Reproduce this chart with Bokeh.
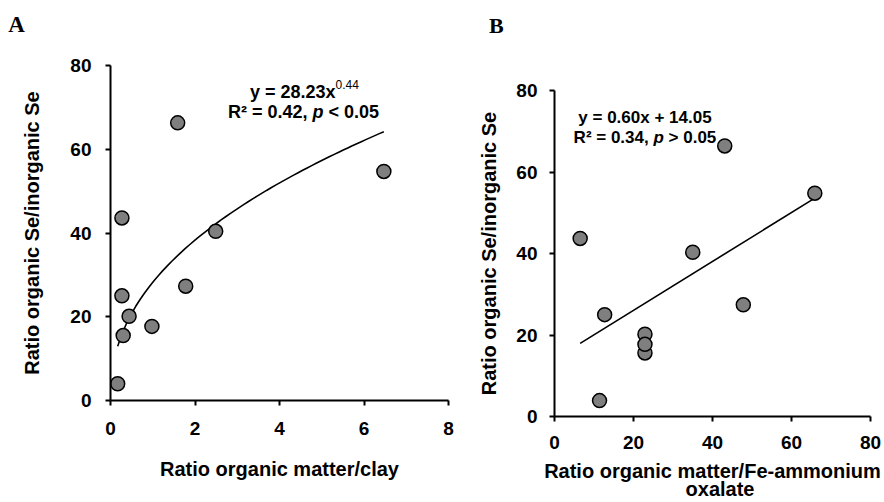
from bokeh.plotting import figure
from bokeh.models import Range1d, FixedTicker, Label
from bokeh.layouts import row, column
from bokeh.embed import file_html
from bokeh.resources import INLINE

# ---------------- data ----------------
# Panel A: ratio organic matter / clay vs ratio organic Se / inorganic Se
om_clay = [0.17, 0.30, 0.27, 0.44, 0.98, 1.78, 0.27, 2.49, 6.47, 1.59]
ratio_se_a = [4.0, 15.5, 25.0, 20.1, 17.7, 27.3, 43.6, 40.4, 54.7, 66.3]
fit_a_coef = 28.23
fit_a_exp = 0.44

# Panel B: ratio organic matter / Fe-ammonium oxalate vs ratio organic Se / inorganic Se
om_fe = [11.4, 22.9, 12.7, 22.9, 22.9, 47.8, 6.5, 35.0, 65.9, 43.1]
ratio_se_b = [3.9, 15.6, 25.0, 20.2, 17.7, 27.4, 43.7, 40.3, 54.8, 66.4]
fit_b_slope = 0.60
fit_b_icpt = 14.05

x_ticks_a = [0, 2, 4, 6, 8]
x_ticks_b = [0, 20, 40, 60, 80]
y_ticks = [0, 20, 40, 60, 80]

FONT = "Liberation Sans"

# Arial/Liberation Sans bold advance widths (per 1000 em)
W = {' ': 278, '=': 584, '.': 278, ',': 278, '<': 584, '>': 584, '+': 584,
     'y': 556, 'x': 556, 'R': 722, '\u00b2': 333, 'p': 611}


def tw(s, size):
    return sum(W.get(c, 556) for c in s) * size / 1000.0


def put_line(p, x, y, pieces):
    """pieces: list of (text, size, style, raise_px); line centred at (x, y)."""
    total = sum(tw(t, s) for t, s, _, _ in pieces)
    off = -total / 2.0
    for t, s, st, r in pieces:
        lead = len(t) - len(t.lstrip(' '))
        txt = t.strip(' ')
        p.add_layout(Label(x=x, y=y, x_offset=off + tw(' ' * lead, s), y_offset=r,
                           text=txt, text_font=FONT, text_font_size=f"{s}px",
                           text_font_style=st, text_color="black",
                           text_align="left", text_baseline="alphabetic"))
        off += tw(t, s)


def style(p, xt, lab_std_y, tick_std_y, lab_std_x, tick_std_x):
    p.outline_line_color = None
    p.grid.visible = False
    p.xaxis.ticker = FixedTicker(ticks=xt)
    p.yaxis.ticker = FixedTicker(ticks=y_ticks)
    for ax in (p.xaxis, p.yaxis):
        ax.axis_line_color = "black"
        ax.axis_line_width = 2
        ax.major_tick_line_color = "black"
        ax.major_tick_line_width = 2
        ax.major_tick_out = 5
        ax.major_tick_in = 0
        ax.minor_tick_line_color = None
        ax.major_label_text_font = FONT
        ax.major_label_text_font_size = "19px"
        ax.major_label_text_font_style = "bold"
        ax.major_label_text_color = "black"
        ax.axis_label_text_font = FONT
        ax.axis_label_text_font_size = "20px"
        ax.axis_label_text_font_style = "bold"
        ax.axis_label_text_color = "black"
    p.yaxis.axis_label_standoff = lab_std_y
    p.yaxis.major_label_standoff = tick_std_y
    p.xaxis.axis_label_standoff = lab_std_x
    p.xaxis.major_label_standoff = tick_std_x


def outside_text(p, x, y, text, font, size, align="left"):
    # placed in the 'above' side panel so that it is not clipped to the frame
    # (in a side panel the label is centred vertically on y)
    p.add_layout(Label(x=x, y=y, text=text, text_font=font, text_font_size=size,
                       text_font_style="bold", text_color="black",
                       text_align=align, text_baseline="middle"), "above")


# ---------------- Panel A ----------------
pa = figure(width=460, height=502, output_backend="svg", toolbar_location=None,
            x_range=Range1d(0, 8), y_range=Range1d(0, 80),
            min_border_left=110, min_border_right=12, min_border_top=65,
            min_border_bottom=102)
pa.xaxis.axis_label = "Ratio organic matter/clay"
pa.yaxis.axis_label = "Ratio organic Se/inorganic Se"
style(pa, x_ticks_a, 24, 14, 20, 16)

n = 60
xa0, xa1 = min(om_clay), max(om_clay)
fx_a = [xa0 + (xa1 - xa0) * i / (n - 1) for i in range(n)]
fy_a = [fit_a_coef * v ** fit_a_exp for v in fx_a]
pa.line(fx_a, fy_a, line_color="black", line_width=1.6)
pa.scatter(om_clay, ratio_se_a, size=14, fill_color="#7f7f7f",
           line_color="black", line_width=1.5)

put_line(pa, 4.59, 73.7, [("y = 28.23x", 18, "bold", 0), ("0.44", 12, "normal", 7)])
put_line(pa, 4.57, 69.0, [("R\u00b2 = 0.42, ", 18, "bold", 0), ("p", 18, "bold italic", 0),
                          (" < 0.05", 18, "bold", 0)])
outside_text(pa, -2.42, 89.9, "A", "Liberation Serif", "23px")

# ---------------- Panel B ----------------
pb = figure(width=424, height=502, output_backend="svg", toolbar_location=None,
            x_range=Range1d(0, 80), y_range=Range1d(0, 80),
            min_border_left=94, min_border_right=14, min_border_top=90,
            min_border_bottom=86)
pb.xaxis.axis_label = "Ratio organic matter/Fe-ammonium"
pb.yaxis.axis_label = "Ratio organic Se/inorganic Se"
style(pb, x_ticks_b, 13, 12, 8, 14)

xb0, xb1 = min(om_fe), max(om_fe)
pb.line([xb0, xb1], [fit_b_slope * xb0 + fit_b_icpt, fit_b_slope * xb1 + fit_b_icpt],
        line_color="black", line_width=1.6)
pb.scatter(om_fe, ratio_se_b, size=14, fill_color="#7f7f7f",
           line_color="black", line_width=1.5)

put_line(pb, 22.9, 73.4, [("y = 0.60x + 14.05", 17, "bold", 0)])
put_line(pb, 22.9, 68.5, [("R\u00b2 = 0.34, ", 17, "bold", 0), ("p", 17, "bold italic", 0),
                          (" > 0.05", 17, "bold", 0)])
outside_text(pb, -16.6, 96.0, "B", "Liberation Serif", "22px")
outside_text(pb, 41.9, -17.7, "oxalate", FONT, "20px", align="center")

layout = row(column(pa), column(pb))
open("out.html", "w").write(file_html(layout, INLINE))
